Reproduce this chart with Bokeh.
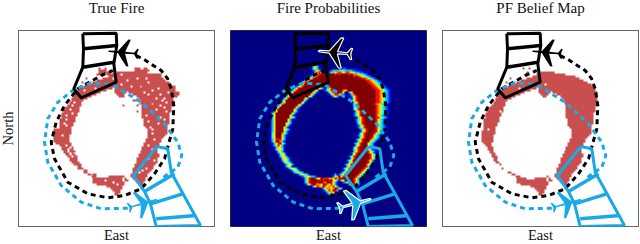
import numpy as np
from bokeh.embed import file_html
from bokeh.layouts import row
from bokeh.models import FixedTicker, LinearAxis, LinearColorMapper, Range1d
from bokeh.plotting import figure
from bokeh.resources import INLINE

TITLES = ["True Fire", "Fire Probabilities", "PF Belief Map"]
XLABEL = "East"
YLABEL = "North"
SERIF = "Liberation Serif"
FIRE_RED = "#C94F4F"
BLUE = "#18A9E6"
JET_LEVELS = ["#000082", "#0000D8", "#0058FF", "#00C4FF", "#30FFD0",
              "#A0FF60", "#FFE800", "#FF8000", "#F01000", "#820000"]
GRID = 100

# belief map: (row from top, first column, last column)
BELIEF_RUNS = [
    (19,41,41),(19,44,44),(21,43,43),(24,34,34),(26,32,32),
    (21,50,56),(22,48,62),(23,46,67),(24,43,69),(25,40,71),(26,38,73),(27,35,75),(28,33,76),
    (29,31,47),(29,49,77),(30,30,44),(30,49,77),(31,29,41),(31,49,54),(31,56,78),
    (32,28,39),(32,50,53),(32,58,78),(33,28,36),(33,51,52),(33,60,78),
    (34,27,34),(34,61,78),(35,27,32),(35,62,78),(36,26,31),(36,62,78),(37,26,31),(37,62,78),
    (38,25,31),(38,63,78),(39,24,30),(39,63,77),(40,23,30),(40,63,77),(41,23,30),(41,63,77),
    (42,22,29),(42,63,76),(43,22,29),(43,63,76),(44,22,28),(44,63,76),(45,21,28),(45,64,76),
    (46,21,28),(46,64,76),(47,21,27),(47,64,76),(48,21,27),(48,64,75),(49,21,26),(49,65,75),
    (50,21,26),(50,66,75),(51,20,26),(51,66,75),(52,20,26),(52,66,75),(53,20,25),(53,66,74),
    (54,20,25),(54,66,73),(55,20,25),(55,65,72),(56,20,25),(56,65,72),(57,21,24),(57,64,71),
    (58,22,24),(58,64,71),(59,23,25),(59,63,70),(60,23,25),(60,63,70),(61,24,25),(61,62,70),
    (62,24,26),(62,62,70),(63,25,26),(63,61,71),(64,25,27),(64,61,71),(65,26,27),(65,60,70),
    (66,26,27),(66,60,70),(67,27,28),(67,60,70),(68,29,29),(68,59,69),(69,59,68),(70,30,30),
    (70,58,68),(71,58,67),(72,33,34),(72,58,66),(73,35,36),(73,57,65),
    (74,37,39),(74,53,53),(74,57,65),(75,38,42),(75,47,52),(75,54,54),(75,58,64),
    (76,38,52),(76,54,55),(76,59,64),(77,38,53),(77,60,63),(78,40,53),(78,61,63),
    (79,45,52),(79,62,63),(80,47,52),(80,62,63),(81,48,51),(82,49,51),(83,49,50),
]
BELIEF_HOLES = [(27,52),(29,39),(41,29),(50,23)]

# true fire: additional burning cells and unburnt gaps
FIRE_EXTRA_RUNS = [
    (19,59,61),(19,64,65),(20,41,44),(20,59,66),(21,41,46),(21,57,65),(22,40,47),(22,63,67),
    (22,68,72),(23,68,72),(24,70,73),(25,72,74),(26,74,76),(27,76,77),(28,77,79),(29,78,79),
    (30,78,79),(31,79,81),(32,79,81),(33,79,80),(50,18,20),(51,18,19),(52,18,19),(53,18,19),
    (54,18,19),(55,18,19),(56,18,20),(57,19,20),(73,38,39),(74,46,52),(75,43,46),
    (33,53,53),(38,53,53),(38,60,60),(41,60,60),(37,61,61),(35,58,59),
    (57,20,26),(58,21,26),(59,22,27),(60,22,27),(61,23,28),(62,23,27),(63,24,28),(64,25,29),
    (65,26,29),(66,27,29),(67,27,30),(68,28,31),(69,30,31),(70,31,32),(71,33,34),
]
FIRE_HOLES = [
    (27,52),(28,57),(24,65),(31,64),(29,71),(35,73),(40,70),(39,74),(44,72),(43,65),(50,68),
    (49,67),(29,39),(26,36),(22,44),(27,34),(30,33),(40,26),(42,27),(45,24),(47,23),(38,27),
    (36,28),(25,55),(24,60),(26,66),(28,62),(32,66),(34,70),(37,68),(41,75),(46,66),(47,71),
    (52,68),(55,69),(58,66),(60,68),(63,67),(65,66),(66,69),(68,63),(70,65),(71,63),(72,61),
    (48,24),(53,22),(43,24),(32,72),(34,74),(22,52),(24,48),(30,68),(38,72),(45,74),(77,48),
    (76,44),(78,50),(31,76),(36,75),(58,24),(60,25),(62,26),(64,27),(59,26),(61,25),(63,26),
]

# fire probabilities: (row from top, first column, level digits 0-9)
PROB_ROWS = [
    (17,43,"131"),(18,41,"13531"),(19,41,"146311"),(19,56,"1221"),(19,63,"11"),
    (20,41,"127631"),(20,50,"1233344433332211"),(21,42,"14786"),(21,49,"124767876787654332211"),
    (22,41,"135789999"+"99989899998987"+"7654321"),
    (23,40,"1357899999"+"99999999999998"+"987654321"),
    (24,38,"1246899999"+"9"*19+"88764321"),
    (25,36,"12468"+"9"*28+"88764321"),
    (26,34,"12468"+"9"*31+"88764321"),
    (27,33,"12468"+"9"*33+"88764321"),
    (28,32,"12468"+"9"*35+"88764321"),
    (29,31,"1368"+"9"*10+"642"),(29,48,"1468"+"9"*21+"88764321"),
    (30,30,"1368"+"9"*9+"641"),(30,48,"2468"+"9"*5+"7"),(30,58,"68"+"9"*14+"88764321"),
    (31,29,"136"+"9"*10+"641"),(31,49,"146899986"),(31,60,"3689"+"9"*10+"88764321"),
    (32,28,"136"+"9"*10+"641"),(32,50,"146886421"),(32,60,"1368"+"9"*10+"88764321"),
    (33,27,"136"+"9"*10+"641"),(33,51,"13631"),(33,60,"12468"+"9"*9+"88764321"),
    (34,26,"136"+"9"*9+"641"),(34,61,"1368"+"9"*9+"88764321"),
    (35,25,"136"+"9"*9+"641"),(35,61,"2468"+"9"*9+"88764321"),
    (36,25,"136"+"9"*8+"641"),(36,62,"1468"+"9"*8+"88764321"),
    (37,24,"136"+"9"*8+"641"),(37,62,"2468"+"9"*7+"8764321"),
    (38,23,"136"+"9"*8+"641"),(38,62,"2468"+"9"*8+"8764321"),
    (39,22,"136"+"9"*8+"631"),(39,62,"1468"+"9"*8+"8764321"),
    (40,21,"136"+"9"*8+"631"),(40,62,"1468"+"9"*8+"8764321"),
    (41,20,"1136"+"9"*8+"631"),(41,63,"1468"+"9"*7+"8764321"),
    (42,20,"136"+"9"*8+"631"),(42,63,"2468"+"9"*7+"8764321"),
    (43,20,"136"+"9"*7+"531"),(43,63,"2468"+"9"*7+"864321"),
    (44,20,"136"+"9"*7+"6531"),(44,64,"1468"+"9"*6+"8864321"),
    (45,20,"136"+"9"*6+"631"),(45,64,"2468"+"9"*6+"864321"),
    (46,20,"136"+"9"*6+"631"),(46,64,"2468"+"9"*6+"864321"),
    (47,20,"136"+"9"*5+"6531"),(47,64,"1468"+"9"*6+"864321"),
    (48,20,"136"+"9"*5+"631"),(48,65,"2468"+"9"*5+"864321"),
    (49,20,"136"+"9"*4+"631"),(49,65,"2468"+"9"*5+"864321"),
    (50,20,"136"+"9"*4+"6531"),(50,66,"2468"+"9"*4+"864321"),
    (51,20,"136"+"9"*4+"531"),(51,66,"1468"+"9"*4+"864321"),
    (52,20,"146"+"9"*3+"7531"),(52,65,"1468"+"9"*4+"86431"),
    (53,20,"146"+"9"*3+"631"),(53,65,"2468"+"9"*4+"6431"),
    (54,20,"146"+"9"*3+"631"),(54,65,"1468"+"9"*3+"86431"),
    (55,20,"136888531"),(55,64,"2468"+"9"*3+"86431"),
    (56,20,"13699731"),(56,64,"1468"+"9"*3+"6431"),
    (57,21,"13689631"),(57,63,"2468"+"9"*3+"6431"),
    (58,21,"1368631"),(58,63,"1468"+"9"*3+"6431"),
    (59,22,"136531"),(59,63,"468"+"9"*3+"8631"),
    (60,22,"146641"),(60,62,"2468"+"9"*4+"6421"),
    (61,23,"14631"),(61,62,"1468"+"9"*4+"86421"),
    (62,23,"136631"),(62,61,"2468"+"9"*5+"8641"),
    (63,24,"14641"),(63,61,"1468"+"9"*6+"8641"),
    (64,24,"136631"),(64,60,"2468"+"9"*7+"8641"),
    (65,25,"146531"),(65,60,"1468"+"9"*7+"8641"),
    (66,25,"136531"),(66,59,"2468"+"9"*7+"8631"),
    (67,26,"146431"),(67,59,"1468"+"9"*7+"8631"),
    (68,27,"135631"),(68,58,"2468"+"9"*7+"8641"),
    (69,27,"13641"),(69,58,"1468"+"9"*7+"841"),
    (70,28,"1246531"),(70,57,"2468"+"9"*7+"8631"),
    (71,30,"135531"),(71,57,"1468"+"9"*6+"8641"),
    (72,31,"1346431"),(72,56,"2468"+"9"*6+"8641"),
    (73,33,"12465431"),(73,52,"131"),(73,55,"2468"+"9"*6+"864"),
    (74,35,"1234653321"),(74,52,"2579"),(74,56,"68"+"9"*6+"8641"),
    (75,37,"13689986698887768"),(75,54,"78"+"9"*7+"8631"),
    (76,37,"1368999989899896"),(76,53,"531"),(76,56,"46"+"9"*5+"8631"),
    (77,37,"136899989987998"),(77,52,"631"),(77,57,"2368998631"),
    (78,38,"1368987768976"),(78,51,"8631"),(78,59,"13688631"),
    (79,41,"1368769767586"),(79,54,"31"),(79,61,"13631"),
    (80,46,"136776798631"),(80,62,"121"),
    (81,47,"136869831"),(82,48,"135761"),(83,49,"131"),
]

# sensor footprints, flight paths (east, north, in plot units)
BLACK_BOX_X = [64.3,97.7,98.3,95.3,97.7,62.7,55.3,64.3,65,64.3]
BLACK_BOX_Y = [192.7,193.3,181,162.7,144.3,128.7,137.7,159.3,177.7,192.7]
BLACK_RUNG_X = [[65,98.3],[64.3,95.3]]
BLACK_RUNG_Y = [[177.7,181],[159.3,164.3]]
BLUE_BOX_X = [138.3,149.3,152.7,182,137.7,132,126,115,138.3]
BLUE_BOX_Y = [80,77.7,54.3,1,0,22.7,35,51,80]
BLUE_RUNG_X = [[126,156],[132,164.3],[137.7,177.7]]
BLUE_RUNG_Y = [[35,52.7],[22.7,32.7],[7.7,11]]
BLACK_PATH_X = [117.7,126,142.7,149,152.7,155.3,154.3,146,136,122.7,106,89.3,69.3,49.3,36,32.7,37.7,46,59.3,82.7,94.3]
BLACK_PATH_Y = [171,166.7,156,148,137.7,121,97.7,67.7,52.7,37.7,31,28.7,32.7,44.3,67.7,84.3,104.3,121,137.7,151,156]
BLUE_PATH_X = [109.3,82.7,62.7,42.7,29.3,26,29.3,39.3,54.3,72.7,94.3,122.7,146,159.3,163.3,159.3,142.7]
BLUE_PATH_Y = [18.3,17.7,24.3,41,64.3,84.3,107.7,124.3,136,143.7,141.7,124.3,102.7,84.3,71,59.3,47.7]

# aircraft outline (forward, starboard) and pose of each aircraft
PLANE_U = [1,.9,.33,-.3,-.46,-.16,-.75,-.95,-1.04,-.95,-1,-.95,-1.04,-.95,-.75,-.16,-.46,-.3,.33,.9,1]
PLANE_V = [0,.05,.07,.9,.9,.07,.05,.33,.33,.02,0,-.02,-.33,-.33,-.05,-.07,-.9,-.9,-.07,-.05,0]
BLACK_PLANE = (104.3, 174.0, 15, 175)
BLUE_PLANE = (124.5, 23.0, 15, 16)
PROB_PLANE_SCALE = 1.12


def mask_from(runs, holes):
    m = np.zeros((GRID, GRID))
    for r, a, b in runs:
        m[r, a:b + 1] = 1
    for r, c in holes:
        m[r, c] = 0
    return m[::-1]


def prob_image():
    m = np.zeros((GRID, GRID))
    for r, c, digits in PROB_ROWS:
        for i, d in enumerate(digits):
            m[r, c + i] = int(d)
    return m[::-1]


def plane_xy(pose, k=1.0):
    cx, cy, s, deg = pose
    t = np.radians(deg)
    u, v = np.array(PLANE_U) * s * k, np.array(PLANE_V) * s * k
    return cx + u * np.cos(t) - v * np.sin(t), cy + u * np.sin(t) + v * np.cos(t)


def style_axis(ax, text, size, standoff):
    ax.ticker = FixedTicker(ticks=[])
    ax.axis_line_color = None
    ax.major_tick_line_color = None
    ax.minor_tick_line_color = None
    ax.axis_label = text
    ax.axis_label_text_font = SERIF
    ax.axis_label_text_font_size = size
    ax.axis_label_text_line_height = 1.0
    ax.axis_label_text_font_style = "normal"
    ax.axis_label_text_color = "#111111"
    ax.axis_label_standoff = standoff


def panel(title, image, palette, left, right, ylabel=None, outline_planes=False):
    p = figure(frame_width=196, frame_height=196, x_range=Range1d(0, 196), y_range=Range1d(0, 196),
               output_backend="svg", toolbar_location=None, tools="",
               min_border_left=left, min_border_right=right, min_border_top=32, min_border_bottom=16,
               y_axis_location="left" if ylabel else None)
    p.grid.visible = False
    p.outline_line_color = "#333333"
    p.outline_line_width = 1
    style_axis(p.xaxis[0], XLABEL, "14.5px", 0)
    top = LinearAxis()
    style_axis(top, title, "15px", 15)
    p.add_layout(top, "above")
    if ylabel:
        style_axis(p.yaxis[0], ylabel, "14.5px", 3)
    mapper = LinearColorMapper(palette=palette, low=0, high=len(palette) - 1)
    p.image(image=[image], x=0, y=0, dw=196, dh=196, color_mapper=mapper)
    p.line(BLACK_PATH_X, BLACK_PATH_Y, line_color="black", line_width=3, line_dash="5 4")
    p.line(BLUE_PATH_X, BLUE_PATH_Y, line_color=BLUE, line_width=3, line_dash="5 4")
    p.line(BLACK_BOX_X, BLACK_BOX_Y, line_color="black", line_width=3)
    p.multi_line(BLACK_RUNG_X, BLACK_RUNG_Y, line_color="black", line_width=3.5)
    p.line(BLUE_BOX_X, BLUE_BOX_Y, line_color=BLUE, line_width=3)
    p.multi_line(BLUE_RUNG_X, BLUE_RUNG_Y, line_color=BLUE, line_width=3.5)
    k = PROB_PLANE_SCALE if outline_planes else 1.0
    edge = "white" if outline_planes else None
    bx, by = plane_xy(BLACK_PLANE, k)
    p.patch(bx, by, fill_color="black", line_color=edge, line_width=1.2)
    cx, cy = plane_xy(BLUE_PLANE, k)
    p.patch(cx, cy, fill_color=BLUE, line_color=edge, line_width=1.2)
    return p


belief = mask_from(BELIEF_RUNS, BELIEF_HOLES)
fire = mask_from(BELIEF_RUNS + FIRE_EXTRA_RUNS, FIRE_HOLES)
prob = prob_image()

p1 = panel(TITLES[0], fire, ["#ffffff", FIRE_RED], 18, 8, YLABEL)
p2 = panel(TITLES[1], prob, JET_LEVELS, 8, 8, None, True)
p3 = panel(TITLES[2], belief, ["#ffffff", FIRE_RED], 8, 2)
page = row(p1, p2, p3, spacing=0, margin=(-4, 0, 0, -4))
open("out.html", "w").write(file_html(page, INLINE))
